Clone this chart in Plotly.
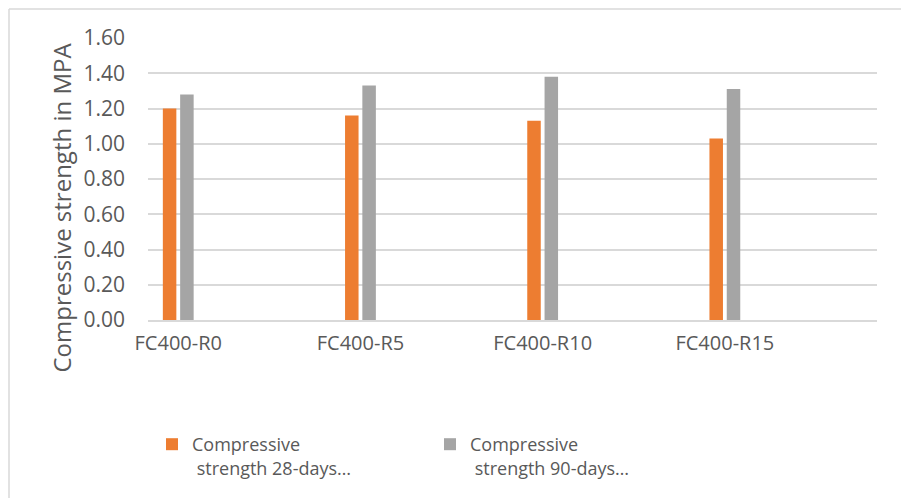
import plotly.graph_objects as go

categories = ["FC400-R0", "FC400-R5", "FC400-R10", "FC400-R15"]
strength_28 = [1.20, 1.16, 1.13, 1.03]
strength_90 = [1.28, 1.33, 1.38, 1.31]
series_names = ["Compressive<br>\u00a0strength 28-days…", "Compressive<br>\u00a0strength 90-days…"]
y_ticks = [0, 0.2, 0.4, 0.6, 0.8, 1.0, 1.2, 1.4, 1.6]
y_title = "Compressive strength in MPA"

TXT = "#595959"
GRID = "#d9d9d9"
FONT = "Open Sans"

# page body has an 8px margin; figure is drawn from (8, 8)
W, H = 901, 490
ML, MR, MT, MB = 140, 32, 30, 178
PW = W - ML - MR
PH = H - MT - MB

def px_x(p):
    return (p - ML) / PW

def px_y(p):
    return (H - MB - p) / PH

fig = go.Figure()
fig.add_trace(go.Bar(x=categories, y=strength_28, name=series_names[0],
                     marker=dict(color="#ED7D31", line=dict(width=0))))
fig.add_trace(go.Bar(x=categories, y=strength_90, name=series_names[1],
                     marker=dict(color="#A5A5A5", line=dict(width=0))))

fig.update_layout(
    width=W, height=H,
    margin=dict(l=ML, r=MR, t=MT, b=MB, autoexpand=False),
    paper_bgcolor="white", plot_bgcolor="white",
    barmode="group", bargap=0.81, bargroupgap=0.22,
    font=dict(family=FONT, color=TXT, size=19),
    showlegend=True,
    legend=dict(orientation="h", x=px_x(144), xanchor="left",
                y=px_y(418), yanchor="top",
                font=dict(family=FONT, size=18, color=TXT),
                entrywidth=233, valign="top", itemwidth=30,
                bgcolor="rgba(0,0,0,0)"),
    annotations=[
        dict(text=y_title, textangle=-90, xref="paper", yref="paper",
             x=px_x(52.5), y=px_y(200), xanchor="center", yanchor="middle",
             showarrow=False, font=dict(family=FONT, size=24, color=TXT)),
    ],
    shapes=[
        dict(type="line", xref="paper", yref="paper",
             x0=px_x(1), x1=px_x(901), y0=px_y(1), y1=px_y(1),
             line=dict(color=GRID, width=1.5)),
        dict(type="line", xref="paper", yref="paper",
             x0=px_x(1), x1=px_x(1), y0=px_y(1), y1=px_y(490),
             line=dict(color=GRID, width=1.5)),
    ],
)

fig.update_xaxes(range=[-0.166, 3.835], showgrid=False, showline=True,
                 linecolor=GRID, linewidth=1.5, ticks="", zeroline=False,
                 tickfont=dict(family=FONT, size=20, color=TXT),
                 ticklabelstandoff=4)
fig.update_yaxes(range=[0, 1.6], tickvals=y_ticks, tickformat=".2f",
                 showgrid=True, gridcolor=GRID, gridwidth=1.5,
                 zeroline=False, showline=False, ticks="",
                 tickfont=dict(family=FONT, size=21, color=TXT),
                 ticklabelstandoff=22)

fig.write_html("out.html")
